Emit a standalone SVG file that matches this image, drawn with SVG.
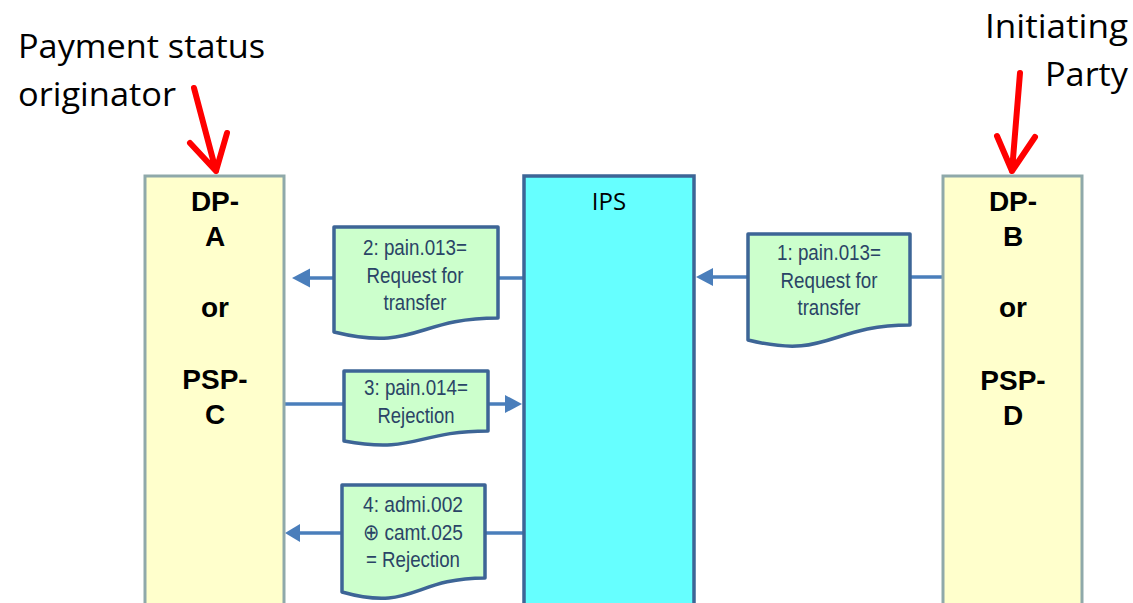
<svg xmlns="http://www.w3.org/2000/svg" width="1133" height="603" viewBox="0 0 1133 603">
<style>
.lbl{font-family:"Open Sans","Liberation Sans",sans-serif;font-size:33px;fill:#000}
.party{fill:#FFFFCC;stroke:#8FA9AA;stroke-width:3}
.ptxt{font-family:"Liberation Sans",Arial,sans-serif;font-weight:bold;font-size:28px;fill:#000;text-anchor:middle}
.ips{fill:#66FFFF;stroke:#3D6596;stroke-width:3.5}
.doc{fill:#CCFFCC;stroke:#3D6596;stroke-width:3.5;stroke-linejoin:round}
.dtxt{font-family:"Liberation Sans",Arial,sans-serif;font-size:22.5px;fill:#2A4466;text-anchor:middle}
.conn{stroke:#4A7EBB;stroke-width:3.5;fill:none}
.head{fill:#4A7EBB}
.red{stroke:#FF0000;stroke-width:6;fill:none;stroke-linecap:round;stroke-linejoin:round}
</style>
<rect width="1133" height="603" fill="#fff"/>

<g id="label-originator">
<text class="lbl" x="18" y="58" textLength="247" lengthAdjust="spacingAndGlyphs">Payment status</text>
<text class="lbl" x="18" y="106" textLength="158" lengthAdjust="spacingAndGlyphs">originator</text>
<path class="red" d="M194,88 L216,171 M190,143 L216,171 L227,133"/>
</g>
<g id="label-initiating">
<text class="lbl" x="985" y="38" textLength="143" lengthAdjust="spacingAndGlyphs">Initiating</text>
<text class="lbl" x="1045" y="86" textLength="83" lengthAdjust="spacingAndGlyphs">Party</text>
<path class="red" d="M1020,73 L1012,171 M997,136 L1012,171 L1035,137"/>
</g>

<g id="connectors">
<line class="conn" x1="523" y1="278" x2="306" y2="278"/>
<polygon class="head" points="292,278 310,268.5 310,287.5"/>
<line class="conn" x1="284" y1="404" x2="508" y2="404"/>
<polygon class="head" points="522,404 505,395 505,413"/>
<line class="conn" x1="523" y1="533" x2="296" y2="533"/>
<polygon class="head" points="285,533 300,524 300,542"/>
<line class="conn" x1="943" y1="277" x2="708" y2="277"/>
<polygon class="head" points="696,277 713,268 713,286"/>
</g>

<g id="node-dpa">
<rect class="party" x="145" y="176" width="139" height="440"/>
<text class="ptxt" x="215" y="211">DP-</text>
<text class="ptxt" x="215" y="246">A</text>
<text class="ptxt" x="215" y="317">or</text>
<text class="ptxt" x="215" y="389">PSP-</text>
<text class="ptxt" x="215" y="424">C</text>
</g>

<g id="node-ips">
<rect class="ips" x="524" y="176" width="170" height="440"/>
<text x="609" y="210" font-family="Open Sans,Liberation Sans,sans-serif" font-size="24" fill="#000" text-anchor="middle">IPS</text>
</g>

<g id="node-dpb">
<rect class="party" x="943" y="176" width="139" height="440"/>
<text class="ptxt" x="1013" y="211">DP-</text>
<text class="ptxt" x="1013" y="246">B</text>
<text class="ptxt" x="1013" y="317">or</text>
<text class="ptxt" x="1013" y="390">PSP-</text>
<text class="ptxt" x="1013" y="425">D</text>
</g>

<g id="msg-1">
<path class="doc" d="M748,234 H910 V325 C829,325 829,360 748,340 Z"/>
<text class="dtxt" x="829" y="260" textLength="104" lengthAdjust="spacingAndGlyphs">1: pain.013=</text>
<text class="dtxt" x="829" y="288" textLength="97" lengthAdjust="spacingAndGlyphs">Request for</text>
<text class="dtxt" x="829" y="315" textLength="63" lengthAdjust="spacingAndGlyphs">transfer</text>
</g>

<g id="msg-2">
<path class="doc" d="M334,227 H498 V318 C416,318 416,352 334,332 Z"/>
<text class="dtxt" x="415" y="255" textLength="104" lengthAdjust="spacingAndGlyphs">2: pain.013=</text>
<text class="dtxt" x="415" y="283" textLength="97" lengthAdjust="spacingAndGlyphs">Request for</text>
<text class="dtxt" x="415" y="310" textLength="63" lengthAdjust="spacingAndGlyphs">transfer</text>
</g>

<g id="msg-3">
<path class="doc" d="M344,371 H488 V431 C416,431 416,454 344,441 Z"/>
<text class="dtxt" x="416" y="395" textLength="104" lengthAdjust="spacingAndGlyphs">3: pain.014=</text>
<text class="dtxt" x="416" y="423" textLength="77" lengthAdjust="spacingAndGlyphs">Rejection</text>
</g>

<g id="msg-4">
<path class="doc" d="M342,485 H485 V578 C413,578 413,612 342,592 Z"/>
<text class="dtxt" x="413" y="512" textLength="100" lengthAdjust="spacingAndGlyphs">4: admi.002</text>
<text class="dtxt" x="413" y="540" textLength="100" lengthAdjust="spacingAndGlyphs">⊕ camt.025</text>
<text class="dtxt" x="413" y="567" textLength="94" lengthAdjust="spacingAndGlyphs">= Rejection</text>
</g>
</svg>
